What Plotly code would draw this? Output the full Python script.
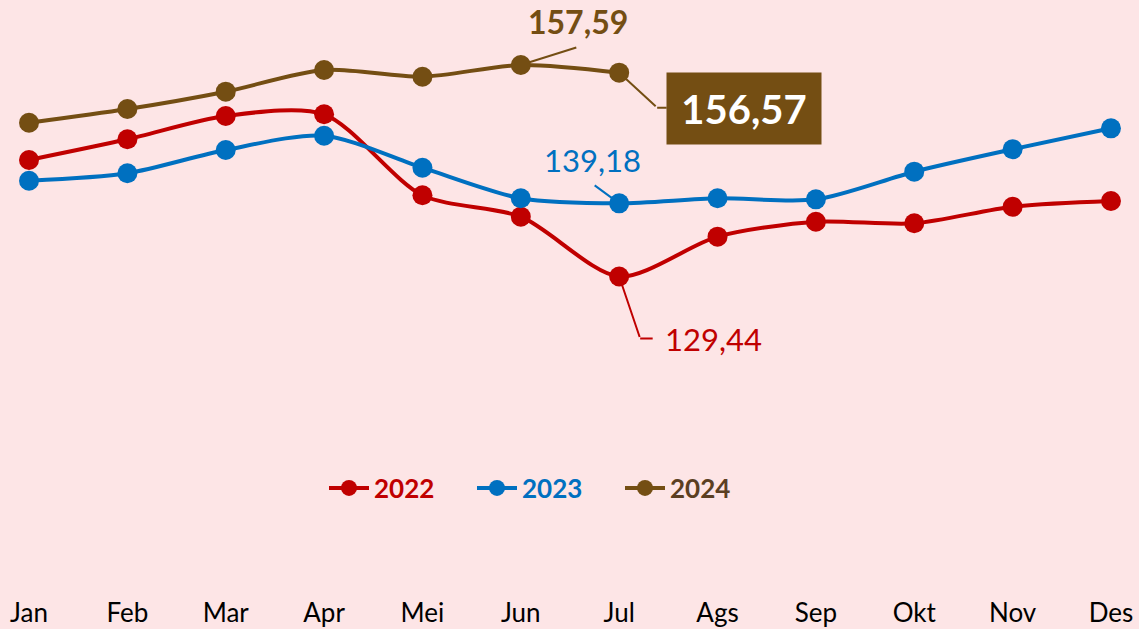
import plotly.graph_objects as go

months = ["Jan", "Feb", "Mar", "Apr", "Mei", "Jun", "Jul", "Ags", "Sep", "Okt", "Nov", "Des"]
y2022 = [144.95, 147.70, 150.80, 151.03, 140.25, 137.40, 129.44, 134.74, 136.73, 136.52, 138.73, 139.49]
y2023 = [142.19, 143.18, 146.28, 148.18, 143.92, 139.85, 139.18, 139.85, 139.71, 143.39, 146.37, 149.16]
y2024 = [149.91, 151.73, 154.04, 156.92, 156.03, 157.59, 156.57]

RED = "#C00000"
BLUE = "#0070C0"
BROWN = "#744E13"
BG = "#FDE5E6"
FONT = "Lato"

fig = go.Figure()
series = [
    ("2022", y2022, RED, RED),
    ("2023", y2023, BLUE, BLUE),
    ("2024", y2024, BROWN, "#5B3F22"),
]
for name, vals, col, tcol in series:
    fig.add_trace(go.Scatter(
        x=months[:len(vals)], y=vals, mode="lines+markers",
        name=f"<span style='color:{tcol}'><b>{name}</b></span>",
        line=dict(color=col, width=4, shape="spline", smoothing=0.8),
        marker=dict(color=col, size=20),
        cliponaxis=False,
    ))

ann = []
def leader(x, y, ax, ay, color, xs=0, ys=0, standoff=0):
    ann.append(dict(x=x, y=y, xref="x", yref="y", text="", showarrow=True,
                    arrowhead=0, arrowwidth=2, arrowcolor=color, ax=ax, ay=ay,
                    axref="pixel", ayref="pixel", xshift=xs, yshift=ys, standoff=standoff))

# 157,59 (Jun 2024)
leader("Jun", y2024[5], 57, -18, BROWN, standoff=9)
ann.append(dict(x="Jun", y=y2024[5], text="<b>157,59</b>", showarrow=False,
                xshift=57, yshift=43, font=dict(family=FONT, size=32, color=BROWN)))
# 156,57 (Jul 2024)
leader("Jul", y2024[6], 38, 35, BROWN, standoff=9)
leader("Jul", y2024[6], 11, 0, BROWN, xs=38, ys=-35)
ann.append(dict(x="Jul", y=y2024[6], text="<b>156,57</b>", showarrow=False,
                xshift=125, yshift=-35.5, width=152, height=69, bgcolor=BROWN,
                font=dict(family=FONT, size=40, color="white")))
# 139,18 (Jul 2023)
leader("Jul", y2023[6], -26, -19, BLUE, standoff=8)
ann.append(dict(x="Jul", y=y2023[6], text="139,18", showarrow=False,
                xshift=-27, yshift=43, font=dict(family=FONT, size=31, color=BLUE)))
# 129,44 (Jul 2022)
leader("Jul", y2022[6], 21, 62, RED, standoff=9)
leader("Jul", y2022[6], 14, 0, RED, xs=21, ys=-62)
ann.append(dict(x="Jul", y=y2022[6], text="129,44", showarrow=False,
                xshift=94, yshift=-62, font=dict(family=FONT, size=31, color=RED)))

fig.update_layout(
    width=1139, height=629,
    paper_bgcolor=BG, plot_bgcolor=BG,
    margin=dict(l=0, r=0, t=0, b=34),
    showlegend=True,
    legend=dict(orientation="h", x=324 / 1139, xanchor="left", y=1 - 488 / 595,
                yanchor="middle", font=dict(family=FONT, size=26), bgcolor="rgba(0,0,0,0)",
                itemwidth=40, entrywidth=93),
    annotations=ann,
    xaxis=dict(type="category", categoryorder="array", categoryarray=months,
               range=[-0.295, 11.285], showgrid=False, zeroline=False, showline=False,
               ticks="", tickfont=dict(family=FONT, size=26, color="black")),
    yaxis=dict(range=[87.05, 166.24], visible=False, showgrid=False),
)

fig.write_html("out.html", config={"displayModeBar": False},
               post_script="document.body.style.margin='0';document.body.style.padding='0';"
                           "document.body.style.overflow='hidden';document.body.style.background='" + BG + "';")
